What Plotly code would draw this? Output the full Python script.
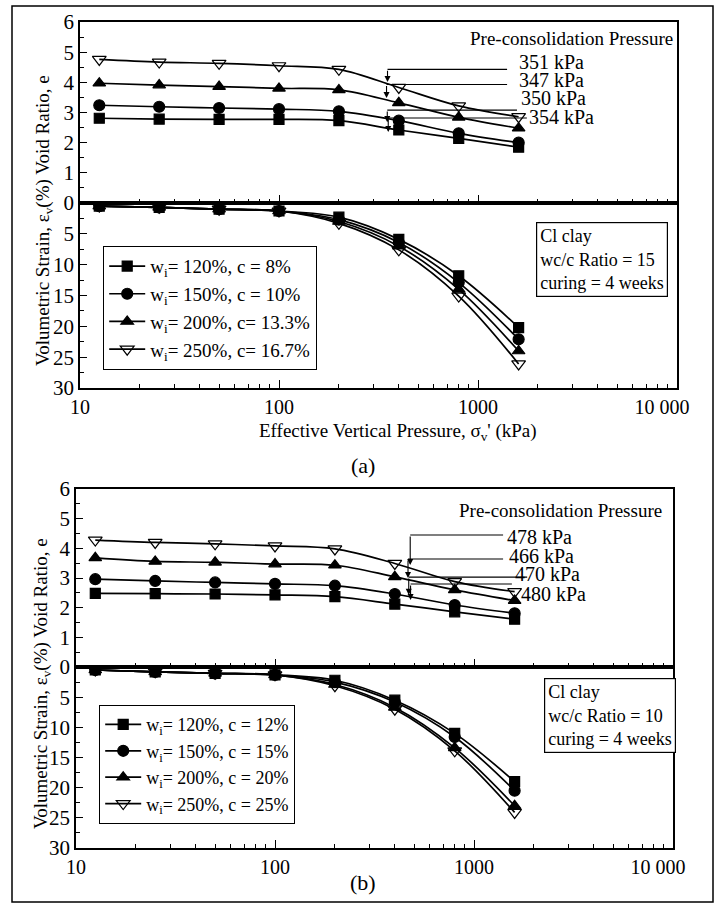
import math
import plotly.graph_objects as go

# ---------------- data ----------------
pressure = [12.5, 25, 50, 100, 200, 400, 800, 1600]

labels_a = ["w<sub>i</sub>= 120%, c = 8%", "w<sub>i</sub>= 150%, c = 10%",
            "w<sub>i</sub>= 200%, c= 13.3%", "w<sub>i</sub>= 250%, c= 16.7%"]
labels_b = ["w<sub>i</sub>= 120%, c = 12%", "w<sub>i</sub>= 150%, c = 15%",
            "w<sub>i</sub>= 200%, c = 20%", "w<sub>i</sub>= 250%, c = 25%"]

void_a_120 = [2.81, 2.78, 2.77, 2.77, 2.73, 2.42, 2.14, 1.85]
void_a_150 = [3.24, 3.19, 3.15, 3.11, 3.04, 2.73, 2.31, 2.00]
void_a_200 = [3.97, 3.91, 3.86, 3.80, 3.75, 3.32, 2.84, 2.48]
void_a_250 = [4.76, 4.67, 4.63, 4.55, 4.43, 3.83, 3.22, 2.86]

strain_a_120 = [0.5, 0.7, 1.0, 1.3, 2.3, 5.9, 11.8, 20.2]
strain_a_150 = [0.5, 0.7, 1.0, 1.3, 2.7, 6.4, 12.9, 22.1]
strain_a_200 = [0.5, 0.7, 1.0, 1.3, 3.0, 7.0, 14.0, 24.0]
strain_a_250 = [0.5, 0.7, 1.0, 1.3, 3.3, 7.6, 15.1, 26.1]

void_b_120 = [2.48, 2.47, 2.46, 2.43, 2.37, 2.12, 1.86, 1.61]
void_b_150 = [2.96, 2.90, 2.85, 2.80, 2.74, 2.46, 2.09, 1.81]
void_b_200 = [3.68, 3.56, 3.53, 3.47, 3.43, 3.04, 2.60, 2.24]
void_b_250 = [4.28, 4.20, 4.15, 4.08, 3.98, 3.49, 2.88, 2.54]

strain_b_120 = [0.5, 0.8, 1.05, 1.3, 2.2, 5.5, 11.0, 19.0]
strain_b_150 = [0.5, 0.8, 1.05, 1.3, 2.5, 5.8, 11.6, 20.5]
strain_b_200 = [0.5, 0.8, 1.05, 1.3, 2.9, 6.7, 13.4, 23.0]
strain_b_250 = [0.5, 0.8, 1.05, 1.3, 3.1, 7.0, 13.9, 24.1]

precon_a = [351, 347, 350, 354]
precon_b = [478, 466, 470, 480]
precon_labels_a = ["351 kPa", "347 kPa", "350 kPa", "354 kPa"]
precon_labels_b = ["478 kPa", "466 kPa", "470 kPa", "480 kPa"]

x_tickvals = [10, 100, 1000, 10000]
x_ticktext = ["10", "100", "1000", "10 000" + "\u00a0" * 6]
e_ticks = [0, 1, 2, 3, 4, 5, 6]
strain_ticks = [5, 10, 15, 20, 25, 30]

# ---------------- styling / layout helpers ----------------
W, H = 720, 904
FONT = "Liberation Serif"
symbols = ["square", "circle", "triangle-up", "triangle-down-open"]
msizes = [10, 11, 11, 12]


def px(x):
    return x / W


def py(y):
    return 1 - y / H


fig = go.Figure()

void_a = [void_a_120, void_a_150, void_a_200, void_a_250]
strain_a = [strain_a_120, strain_a_150, strain_a_200, strain_a_250]
void_b = [void_b_120, void_b_150, void_b_200, void_b_250]
strain_b = [strain_b_120, strain_b_150, strain_b_200, strain_b_250]


def add_series(vals, xa, ya, names, legend, show):
    for i, v in enumerate(vals):
        fig.add_trace(go.Scatter(
            x=pressure, y=v, xaxis=xa, yaxis=ya,
            mode="lines+markers", line=dict(color="black", width=1.7, shape="spline"),
            marker=dict(symbol=symbols[i], size=msizes[i], color="black",
                        line=dict(color="black", width=1.2)),
            name=names[i], showlegend=show, legend=legend,
            legendgroup=f"{legend}{i}",
        ))


add_series(void_a, "x", "y", labels_a, "legend", True)
add_series(strain_a, "x2", "y2", labels_a, "legend", False)
add_series(void_b, "x3", "y3", labels_b, "legend2", True)
add_series(strain_b, "x4", "y4", labels_b, "legend2", False)

# ---------------- axes ----------------
minor_x = [m * 10 ** d for d in (1, 2, 3) for m in range(2, 10)]

panel_a_x = [80, 677]
panel_b_x = [76, 673]
dom_a = [(22, 203), (203, 388)]
dom_b = [(489, 667), (667, 848)]


def xaxis(dom, anchor, labels):
    return dict(type="log", range=[1, 4], domain=[px(dom[0]), px(dom[1])], anchor=anchor,
                showline=True, mirror=True, linecolor="black", linewidth=1.5,
                ticks="inside", ticklen=8, tickwidth=1.3, tickcolor="black",
                tickmode="array", tickvals=x_tickvals, ticktext=x_ticktext,
                showticklabels=labels, showgrid=False, zeroline=False, automargin=False,
                tickfont=dict(family=FONT, size=20, color="black"),
                minor=dict(ticks="inside", ticklen=4, tickwidth=1.1, tickcolor="black",
                           tickmode="array", tickvals=minor_x, showgrid=False))


def yaxis(dom, anchor, rng, tv, minor_dt):
    return dict(range=rng, domain=[py(dom[1]), py(dom[0])], anchor=anchor,
                showline=True, mirror=True, linecolor="black", linewidth=1.5,
                ticks="inside", ticklen=7, tickwidth=1.3, tickcolor="black",
                tickmode="array", tickvals=tv, showgrid=False, zeroline=False, automargin=False,
                tickfont=dict(family=FONT, size=21, color="black"),
                minor=dict(ticks="inside", ticklen=4, tickwidth=1.1, tickcolor="black",
                           dtick=minor_dt, tick0=0, showgrid=False))


fig.update_layout(
    xaxis=xaxis(panel_a_x, "y", False),
    xaxis2=xaxis(panel_a_x, "y2", True),
    xaxis3=xaxis(panel_b_x, "y3", False),
    xaxis4=xaxis(panel_b_x, "y4", True),
    yaxis=yaxis(dom_a[0], "x", [0, 6], e_ticks, 0.5),
    yaxis2=yaxis(dom_a[1], "x2", [30, 0], strain_ticks, 2.5),
    yaxis3=yaxis(dom_b[0], "x3", [0, 6], e_ticks, 0.5),
    yaxis4=yaxis(dom_b[1], "x4", [30, 0], strain_ticks, 2.5),
)

# ---------------- legends ----------------
leg_common = dict(xanchor="left", yanchor="top", bordercolor="black", borderwidth=1.2,
                  bgcolor="white", itemwidth=36, tracegroupgap=0, traceorder="grouped")
fig.update_layout(
    legend=dict(x=px(103), y=py(246), font=dict(family=FONT, size=19, color="black"),
                **leg_common),
    legend2=dict(x=px(99), y=py(705), font=dict(family=FONT, size=18, color="black"),
                 **leg_common),
)

# ---------------- annotations ----------------
ann = []


def text(x, y, s, size=19, xanchor="left", yanchor="middle", **kw):
    ann.append(dict(x=px(x), y=py(y), xref="paper", yref="paper", text=s, showarrow=False,
                    xanchor=xanchor, yanchor=yanchor,
                    font=dict(family=FONT, size=size, color="black"), **kw))


# y-axis titles
ytitle = "Volumetric Strain, ε<sub>v</sub>(%) Void Ratio, e"
text(44, 221, ytitle, size=19, xanchor="center", textangle=-90)
text(42, 684, ytitle, size=19, xanchor="center", textangle=-90)

# x-axis title (panel a only)
text(398, 432, "Effective Vertical Pressure, σ<sub>v</sub>' (kPa)", size=19, xanchor="center")

# panel letters
text(363, 465, "(a)", size=22, xanchor="center")
text(363, 882, "(b)", size=22, xanchor="center")

# Pre-consolidation headings
text(675, 38, "Pre-consolidation Pressure", size=19, xanchor="right")
text(664, 511, "Pre-consolidation Pressure", size=19, xanchor="right")

# info boxes
text(536, 222, "Cl clay<br>wc/c Ratio = 15<br>curing = 4 weeks", size=18, yanchor="top",
     align="left", bordercolor="black", borderwidth=1.2, borderpad=3, bgcolor="white")
text(544, 678, "Cl clay<br>wc/c Ratio = 10<br>curing = 4 weeks", size=18, yanchor="top",
     align="left", bordercolor="black", borderwidth=1.2, borderpad=3, bgcolor="white")

# pre-consolidation leader lines and arrows (positions in axis units)
lead_a_line_y = [4.43, 3.93, 3.08, 2.82]
lead_a_tip_y = [4.01, 3.48, 2.68, 2.35]
lead_a_end_x = [1400, 1400, 1570, 1760]
lab_a_pos = [(517, 62), (517, 80), (519, 98), (527, 117)]

lead_b_line_y = [4.45, 3.64, 3.03, 2.80]
lead_b_tip_y = [3.44, 3.00, 2.43, 2.26]
lead_b_end_x = [1400, 1400, 1850, 1550]
lab_b_pos = [(505, 537), (507, 556), (513, 574), (519, 594)]


def leaders(pvals, line_y, tip_y, end_x, xa, ya, labs, pos):
    for p, ly, ty, ex, lab, (lx, lyy) in zip(pvals, line_y, tip_y, end_x, labs, pos):
        fig.add_trace(go.Scatter(x=[p, ex], y=[ly, ly], xaxis=xa, yaxis=ya, mode="lines",
                                 line=dict(color="black", width=1.1), showlegend=False,
                                 hoverinfo="skip"))
        ann.append(dict(x=math.log10(p), y=ty, ax=math.log10(p), ay=ly,
                        xref=xa, yref=ya, axref=xa, ayref=ya, text="", showarrow=True,
                        arrowhead=2, arrowsize=1.1, arrowwidth=1.1, arrowcolor="black",
                        standoff=0, startstandoff=0))
        text(lx, lyy, lab, size=20)


leaders(precon_a, lead_a_line_y, lead_a_tip_y, lead_a_end_x, "x", "y", precon_labels_a, lab_a_pos)
leaders(precon_b, lead_b_line_y, lead_b_tip_y, lead_b_end_x, "x3", "y3", precon_labels_b, lab_b_pos)

# outer frame
shapes = [dict(type="rect", xref="paper", yref="paper", x0=px(12), x1=px(713), y0=py(902),
               y1=py(6), line=dict(color="black", width=1.5))]

fig.update_layout(
    annotations=ann, shapes=shapes,
    width=W, height=H, margin=dict(l=0, r=0, t=0, b=0, pad=0, autoexpand=False),
    paper_bgcolor="white", plot_bgcolor="white",
    font=dict(family=FONT, color="black"),
)

fig.write_html("out.html")
